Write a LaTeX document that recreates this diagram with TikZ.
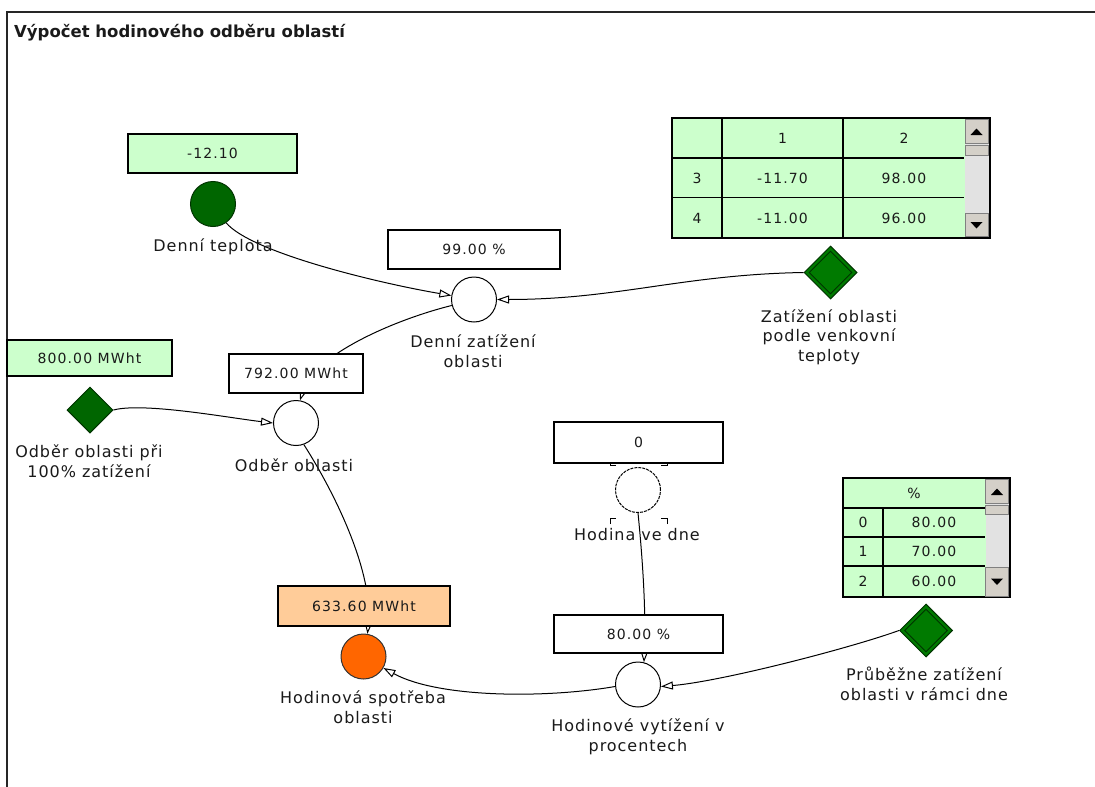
\documentclass[tikz,border=0pt]{standalone}
\usepackage{fontspec}
\setmainfont{DejaVu Sans}
\newfontfamily\lblfont[LetterSpace=6]{DejaVu Sans}
\newfontfamily\valfont[LetterSpace=8]{DejaVu Sans}
\usetikzlibrary{arrows.meta,shapes.geometric}
\definecolor{lgreen}{HTML}{CCFFCC}
\definecolor{dgreen}{HTML}{006600}
\definecolor{mgreen}{HTML}{007A00}
\definecolor{dkborder}{HTML}{003300}
\definecolor{orfill}{HTML}{FF6600}
\definecolor{orbox}{HTML}{FFCC99}
\definecolor{btnface}{HTML}{D4D0C8}
\definecolor{track}{HTML}{E2E2E2}
\definecolor{txt}{HTML}{1A1A1A}
\begin{document}
\begin{tikzpicture}[x=1pt,y=-1pt,
  lbl/.style={font=\lblfont\fontsize{16}{19.5}\selectfont, align=center, inner sep=0pt, text=txt, anchor=base},
  val/.style={font=\valfont\fontsize{14}{16}\selectfont, inner sep=0pt, text=txt},
  vbox/.style={val, draw=black, line width=1.2pt, minimum height=39pt},
  varc/.style={circle, draw=black, line width=1pt, minimum size=45pt, inner sep=0pt, fill=white},
  gdia/.style={diamond, draw=dkborder, line width=1pt, fill=mgreen, inner sep=0pt, aspect=1},
  conn/.style={line width=1pt, -{Triangle[open,length=12pt,width=8pt]}},
  tline/.style={line width=1.2pt},
  sbtn/.style={fill=btnface, draw=gray, line width=0.6pt},
  tri/.style={fill=black}
]
\useasboundingbox (0,0) rectangle (1095,787);
\fill[white] (0,0) rectangle (1095,787);
% frame
\draw[line width=1.3pt, black!85] (7,787) -- (7,12) -- (1095,12);
\node[anchor=base west, font=\bfseries\fontsize{16.5}{20}\selectfont, inner sep=0pt, text=txt] (title) at (14,37.5) {Výpočet hodinového odběru oblastí};

% ---------- circles and diamonds ----------
\node[varc, fill=dgreen, draw=dkborder] (teplota) at (213,204) {};
\node[varc] (dz) at (474,299.5) {};
\node[varc] (oo) at (296,423) {};
\node[varc, dash pattern=on 3pt off 1pt] (hd) at (638,490) {};
\node[varc] (hv) at (638,684.5) {};
\node[varc, fill=orfill, draw=black!80] (hs) at (363.5,656.5) {};
\node[gdia, minimum width=46pt, minimum height=46pt, fill=dgreen] (odd) at (90,410) {};
\node[gdia, minimum width=53pt, minimum height=53pt] (zod) at (830.5,272.5) {};
\node[diamond, draw=dkborder, line width=0.9pt, minimum width=43pt, minimum height=43pt, inner sep=0pt, aspect=1] (zodin) at (zod.center) {};
\node[gdia, minimum width=53pt, minimum height=53pt] (prd) at (926,630.5) {};
\node[diamond, draw=dkborder, line width=0.9pt, minimum width=43pt, minimum height=43pt, inner sep=0pt, aspect=1] (prdin) at (prd.center) {};

% selection brackets around Hodina ve dne
\coordinate (s1) at (610,465);
\coordinate (s2) at (667,465);
\coordinate (s3) at (610,518);
\coordinate (s4) at (667,518);
\draw[line width=0.8pt] ([yshift=6pt]s1) -- (s1) -- ([xshift=6pt]s1);
\draw[line width=0.8pt] ([yshift=6pt]s2) -- (s2) -- ([xshift=-6pt]s2);
\draw[line width=0.8pt] ([yshift=-6pt]s3) -- (s3) -- ([xshift=6pt]s3);
\draw[line width=0.8pt] ([yshift=-6pt]s4) -- (s4) -- ([xshift=-6pt]s4);

% ---------- connectors ----------
\draw[conn] (teplota.-55) .. controls +(25,30) and +(-71,-12) .. (dz.170);
\draw[conn] (zod.west) .. controls +(-120,2) and +(120,0) .. (dz.east);
\draw[conn] (dz.195) .. controls +(-60,15) and +(15,-45) .. (oo.80);
\draw[conn] (odd.east) .. controls +(30,-8) and +(-43,-5) .. (oo.west);
\draw[conn] (oo.-70) .. controls +(35,55) and +(5,-60) .. (hs.80);
\draw[conn] (hd.south) .. controls +(5,50) and +(2,-50) .. (hv.75);
\draw[conn] (prd.west) .. controls +(-50,18) and +(60,-5) .. (hv.-5);
\draw[conn] (hv.185) .. controls +(-70,12) and +(55,30) .. (hs.-30);

% ---------- value boxes ----------
\node[vbox, fill=lgreen, minimum width=169pt] (vteplota) at (212.5,153.5) {-12.10};
\node[vbox, fill=white, minimum width=172pt] (vdz) at (474,249.5) {99.00 \%};
\node[vbox, fill=lgreen, minimum width=165pt, minimum height=36pt] (vodd) at (89.5,358) {800.00 MWht};
\node[vbox, fill=white, minimum width=134pt] (voo) at (296,373.5) {792.00 MWht};
\node[vbox, fill=white, minimum width=169pt, minimum height=41pt] (vhd) at (638.5,442.5) {0};
\node[vbox, fill=orbox, minimum width=172pt, minimum height=40pt] (vhs) at (364,606) {633.60 MWht};
\node[vbox, fill=white, minimum width=169pt, minimum height=38pt] (vhv) at (638.5,634) {80.00 \%};

% ---------- labels (anchor = baseline of last line) ----------
\node[lbl] (lteplota) at (213,251) {Denní teplota};
\node[lbl] (ldz) at (473,367) {Denní zatížení\\oblasti};
\node[lbl] (lzod) at (829,361) {Zatížení oblasti\\podle venkovní\\teploty};
\node[lbl] (lodd) at (89,477) {Odběr oblasti při\\100\% zatížení};
\node[lbl] (loo) at (294,471) {Odběr oblasti};
\node[lbl] (lhd) at (637,540) {Hodina ve dne};
\node[lbl] (lhs) at (363,723) {Hodinová spotřeba\\oblasti};
\node[lbl] (lhv) at (638,751) {Hodinové vytížení v\\procentech};
\node[lbl] (lprd) at (924,700) {Průběžne zatížení\\oblasti v rámci dne};

% ---------- table 1 ----------
\draw[tline, fill=lgreen] (672,118) rectangle (990,238);
\draw[tline] (722,118) -- (722,238);
\draw[tline] (843,118) -- (843,238);
\draw[tline] (672,158) -- (964,158);
\draw[tline] (672,197.5) -- (964,197.5);
\fill[track] (965,143) rectangle (989,213);
\draw[sbtn] (965,119.5) rectangle (988.5,143);
\fill[tri] (970.5,135) -- (982.5,135) -- (976.5,128.5) -- cycle;
\draw[sbtn] (965,145) rectangle (988.5,155);
\draw[sbtn] (965,213) rectangle (988.5,236.5);
\fill[tri] (970.5,222) -- (982.5,222) -- (976.5,228.5) -- cycle;
\node[val] (t1h1) at (782.5,138) {1};
\node[val] (t1h2) at (904,138) {2};
\node[val] (t1r3a) at (697,178) {3};
\node[val] (t1r3b) at (782.5,178) {-11.70};
\node[val] (t1r3c) at (904,178) {98.00};
\node[val] (t1r4a) at (697,218) {4};
\node[val] (t1r4b) at (782.5,218) {-11.00};
\node[val] (t1r4c) at (904,218) {96.00};

% ---------- table 2 ----------
\draw[tline, fill=lgreen] (843,478) rectangle (1010,597);
\draw[tline] (883,508) -- (883,597);
\draw[tline] (843,508) -- (985,508);
\draw[tline] (843,537) -- (985,537);
\draw[tline] (843,566) -- (985,566);
\fill[track] (985.5,503) rectangle (1009,567);
\draw[sbtn] (985.5,479.5) rectangle (1008.5,503);
\fill[tri] (991,495) -- (1003,495) -- (997,488.5) -- cycle;
\draw[sbtn] (985.5,505) rectangle (1008.5,514);
\draw[sbtn] (985.5,567) rectangle (1008.5,596);
\fill[tri] (991,578.5) -- (1003,578.5) -- (997,585) -- cycle;
\node[val] (t2h) at (914,493) {\%};
\node[val] (t2r0a) at (863,522.5) {0};
\node[val] (t2r0b) at (934,522.5) {80.00};
\node[val] (t2r1a) at (863,551.5) {1};
\node[val] (t2r1b) at (934,551.5) {70.00};
\node[val] (t2r2a) at (863,581.5) {2};
\node[val] (t2r2b) at (934,581.5) {60.00};
\end{tikzpicture}
\end{document}
